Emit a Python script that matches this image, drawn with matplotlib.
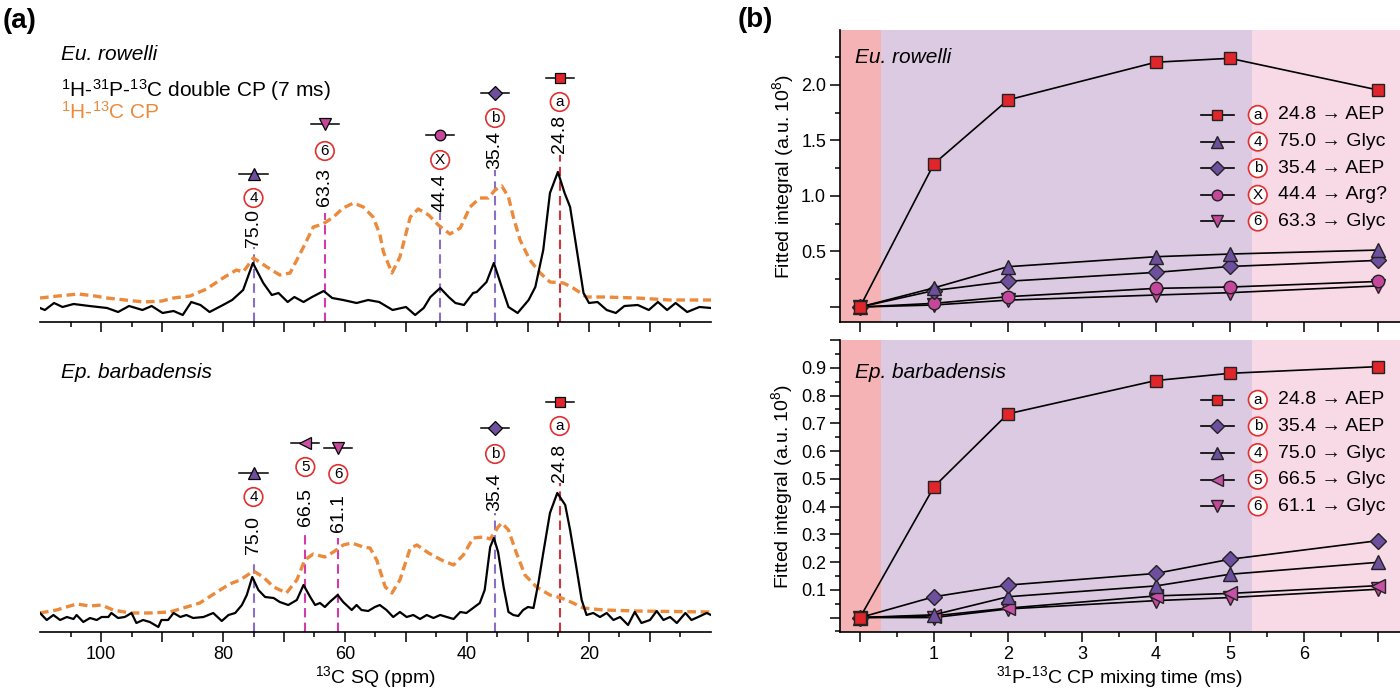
import numpy as np
import matplotlib
matplotlib.use("Agg")
import matplotlib.pyplot as plt
from matplotlib.ticker import FixedLocator, MultipleLocator, FuncFormatter

plt.rcParams['font.family'] = ['Liberation Sans', 'DejaVu Sans']
plt.rcParams['mathtext.fontset'] = 'custom'
plt.rcParams['mathtext.rm'] = 'Liberation Sans'
plt.rcParams['mathtext.it'] = 'Liberation Sans:italic'

# ---------------- data: spectra (ppm, intensity a.u.) ----------------
eu_cp_ppm = [110, 107, 103.7, 101, 99, 96, 93, 90, 88.1, 85.4, 82.7, 80, 77.8, 76.7, 75,
             72.8, 70.7, 69, 66.8, 65.2, 63.6, 61.9, 60.3, 58.6, 57, 55.4, 54.3, 53.7,
             52.3, 51, 49.3, 48, 46.3, 44.7, 42.8, 41.1, 39.5, 37.9, 36.5, 35.4, 34.3,
             33.2, 32.4, 31.3, 29.7, 28, 26.4, 24.2, 22.6, 20.4, 17.6, 12.2, 6.7, 0]
eu_cp_int = [24, 26, 28, 26, 24, 22, 20, 21, 24, 26, 33, 44, 52, 50, 64,
             55, 47, 49, 75, 95, 98, 105, 114, 119, 115, 105, 88, 70,
             49, 65, 105, 113, 107, 97, 88, 94, 115, 124, 124, 132, 136,
             125, 105, 82, 62, 49, 40, 39, 34, 25, 25, 24, 22, 22]

eu_dcp_ppm = [110, 109.2, 107.7, 106.3, 104.5, 101.9, 99, 97.2, 95.4, 93.2, 91.7, 89.9,
              88.1, 86.6, 85.2, 83.7, 82.2, 80, 78.5, 76.7, 75.1, 73.4, 72, 70.9, 69.4,
              68.3, 66.8, 65.4, 63.5, 62.1, 60.3, 58.1, 56.2, 54.4, 52.2, 50, 48.5, 47.1,
              46, 44.4, 43, 41.9, 40.5, 39, 38.4, 36.8, 35.6, 34.3, 33.2, 31.7, 29.9,
              28.8, 27.5, 26.4, 25.1, 24, 23.1, 22, 20.9, 20, 18.6, 17.1, 15.6, 14.2,
              12, 10.2, 8.7, 7.2, 5.8, 3.9, 1.9, 0]
eu_dcp_int = [14, 12, 19, 15, 18, 16, 14, 10, 16, 12, 16, 9,
              11, 7, 20, 17, 10, 17, 22, 32, 59, 39, 27, 29, 20,
              25, 20, 25, 31, 24, 22, 19, 22, 20, 12, 15, 7, 14,
              25, 34, 25, 19, 17, 29, 30, 40, 59, 35, 15, 9, 22,
              35, 72, 129, 150, 129, 115, 72, 29, 19, 20, 12, 9, 16,
              17, 12, 20, 12, 19, 10, 15, 14]

ep_cp_ppm = [110, 107.3, 104, 101.8, 99.9, 98, 95.2, 92, 88.7, 86.5, 83.8, 81, 78.9, 77.2,
             75, 73.4, 71.7, 69.6, 67.9, 66.6, 65.2, 63.3, 61.9, 60.3, 58.9, 57, 55.9,
             54.8, 53.4, 52.3, 51, 49.3, 48.2, 46.3, 44.2, 42.2, 40.6, 39, 37.3, 36.2,
             34.9, 34.3, 33.2, 31.9, 30.5, 28.6, 26.4, 24.5, 22.6, 20.9, 17.6, 12.2, 0]
ep_cp_int = [19, 22, 28, 26, 27, 22, 19, 19, 20, 24, 29, 40, 48, 52,
             61, 55, 45, 39, 52, 72, 78, 75, 80, 87, 89, 85, 84,
             72, 45, 39, 52, 84, 87, 79, 72, 67, 77, 94, 95, 93,
             105, 109, 102, 79, 57, 45, 37, 34, 29, 24, 22, 21, 20]

ep_dcp_ppm = [110, 108.9, 107.8, 106.7, 105.6, 104.5, 104, 102.9, 101.8, 100.7, 99.9, 98.8,
              98.3, 97.2, 96.1, 95, 94.2, 93.1, 92, 90.6, 90.1, 89, 88.1, 87, 86, 84.9,
              83.2, 81.6, 80.2, 79.1, 78, 76.9, 76.1, 75.2, 74.2, 73.1, 71.7, 70.7, 69.3,
              67.9, 66.8, 65.7, 64.9, 64.1, 63.3, 62.5, 61.2, 60.3, 58.9, 58.1, 57.3,
              56.2, 55.1, 54.3, 53.2, 52.1, 51, 49.9, 48.8, 47.7, 46.6, 45.5, 44.4, 43.3,
              42.2, 41.1, 40.1, 39, 37.9, 37.1, 36.2, 35.6, 34.9, 34, 33.2, 32.4, 31.6,
              30.8, 30, 29.1, 28.3, 27.5, 26.4, 25.2, 23.9, 23.1, 22, 21.2, 20.4, 19.3,
              18.2, 17.1, 16, 14.9, 13.6, 12.5, 11.4, 10, 8.9, 7.8, 6.7, 5.6, 4.2, 3.2,
              2.1, 0.7, 0]
ep_dcp_int = [19, 12, 17, 12, 15, 13, 17, 10, 14, 12, 15, 15,
              19, 14, 15, 19, 9, 12, 10, 5, 12, 12, 19, 15, 17, 14,
              15, 19, 11, 17, 19, 27, 37, 55, 42, 35, 34, 30, 27,
              32, 47, 35, 27, 29, 25, 30, 37, 30, 22, 27, 22,
              21, 25, 27, 22, 15, 20, 15, 17, 13, 17, 14, 17, 15,
              13, 20, 19, 24, 29, 42, 85, 94, 80, 45, 20, 17, 16,
              22, 25, 24, 49, 79, 119, 139, 127, 102, 62, 32, 17, 19,
              15, 19, 12, 15, 7, 20, 9, 12, 21, 12, 15, 9, 19, 12,
              15, 19, 17]

# peak assignments
eu_peaks = [75.0, 63.3, 44.4, 35.4, 24.8]
eu_ids = ['4', '6', 'X', 'b', 'a']
ep_peaks = [75.0, 66.5, 61.1, 35.4, 24.8]
ep_ids = ['4', '5', '6', 'b', 'a']

# ---------------- data: build-up curves ----------------
mix_time = [0, 1, 2, 4, 5, 7]
eu_series = {
    'a': [0, 1.29, 1.865, 2.205, 2.24, 1.955],
    '4': [0, 0.172, 0.363, 0.453, 0.477, 0.513],
    'b': [0, 0.148, 0.232, 0.312, 0.365, 0.42],
    'X': [0, 0.033, 0.093, 0.168, 0.18, 0.23],
    '6': [0, 0.018, 0.062, 0.108, 0.129, 0.19],
}
eu_labels = {'a': '24.8 → AEP', '4': '75.0 → Glyc', 'b': '35.4 → AEP',
             'X': '44.4 → Arg?', '6': '63.3 → Glyc'}
eu_order = ['a', '4', 'b', 'X', '6']

ep_series = {
    'a': [0, 0.471, 0.734, 0.854, 0.88, 0.904],
    'b': [0, 0.075, 0.117, 0.159, 0.21, 0.277],
    '4': [0, 0.01, 0.075, 0.114, 0.156, 0.199],
    '5': [0, 0.006, 0.034, 0.078, 0.087, 0.115],
    '6': [0, 0.0, 0.031, 0.061, 0.072, 0.102],
}
ep_labels = {'a': '24.8 → AEP', 'b': '35.4 → AEP', '4': '75.0 → Glyc',
             '5': '66.5 → Glyc', '6': '61.1 → Glyc'}
ep_order = ['a', 'b', '4', '5', '6']

# ---------------- styles ----------------
RED = '#e0262b'
PURPLE = '#6e4f9e'
MAGENTA = '#c4479b'
ORANGE = '#ec8a3c'
style = {  # marker, fill, size, dashed-line colour
    'a': ('s', RED, 9, '#d0343c'),
    '4': ('^', PURPLE, 10, '#8b6fc4'),
    'b': ('D', PURPLE, 8.5, '#8b6fc4'),
    'X': ('o', MAGENTA, 9, '#8b6fc4'),
    '6': ('v', MAGENTA, 10, '#d03cae'),
    '5': ('<', '#c850a6', 10, '#d03cae'),
}
CIRCLE = dict(boxstyle='circle,pad=0.15', fc='white', ec='#e03030', lw=1.2)

# annotation layout (dash top, label centre, circle centre, marker centre)
eu_layout = [(75, 94, 124, 148), (109, 135, 171, 198), (109, 129, 162, 187),
             (152, 172, 204, 229), (167, 188, 220, 244)]
ep_layout = [(72, 97, 135, 159), (102, 125, 165, 189), (94, 119, 158, 184),
             (119, 140, 178, 204), (149, 169, 206, 230)]

fig = plt.figure(figsize=(14, 6.9), dpi=100)
W, H = 1400, 690


def px_axes(x0, y0, x1, y1):
    return fig.add_axes([x0 / W, 1 - y1 / H, (x1 - x0) / W, (y1 - y0) / H])


def spectrum(ax, cp_ppm, cp_int, dcp_ppm, dcp_int, peaks, ids, layout, name, show_labels):
    ax.plot(cp_ppm, cp_int, color=ORANGE, lw=2.4, ls=(0, (2.6, 1.4)), zorder=2)
    ax.plot(dcp_ppm, dcp_int, color='black', lw=1.6, zorder=3)
    for p, k, (dt, tc, cc, mc) in zip(peaks, ids, layout):
        mk, fc, ms, lc = style[k]
        ax.vlines(p, 0, dt, colors=lc, lw=1.5, linestyles=(0, (4.5, 2.5)), zorder=1)
        ax.text(p, tc, f'{p:.1f}', rotation=90, ha='center', va='center', fontsize=14)
        ax.text(p, cc, k, ha='center', va='center', fontsize=11, bbox=CIRCLE)
        ax.plot([p + 2.3, p - 2.3], [mc, mc], color='black', lw=1.1)
        ax.plot([p], [mc], marker=mk, ms=ms * 0.85, mfc=fc, mec='black', mew=0.9)
    ax.set_xlim(110, 0)
    ax.set_ylim(0, 292)
    for s in ['top', 'right', 'left']:
        ax.spines[s].set_visible(False)
    ax.spines['bottom'].set_linewidth(1.2)
    ax.set_yticks([])
    ax.xaxis.set_major_locator(FixedLocator(np.arange(10, 101, 10)))
    ax.xaxis.set_minor_locator(FixedLocator(np.arange(5, 106, 10)))
    ax.tick_params(axis='x', which='major', length=7, width=1.1, labelsize=13, pad=3)
    ax.tick_params(axis='x', which='minor', length=3.5, width=1.1)
    if show_labels:
        ax.xaxis.set_major_formatter(FuncFormatter(
            lambda v, pos: f'{v:.0f}' if round(v) % 20 == 0 else ''))
        ax.set_xlabel('$^{13}$C SQ (ppm)', fontsize=14, labelpad=1)
    else:
        ax.set_xticklabels([])
    ax.text(106.6, 267 if not show_labels else 260, name, fontsize=15, style='italic',
            ha='left', va='center')


axL1 = px_axes(40, 30, 711, 322)
spectrum(axL1, eu_cp_ppm, eu_cp_int, eu_dcp_ppm, eu_dcp_int, eu_peaks, eu_ids,
         eu_layout, 'Eu. rowelli', False)
axL1.text(106.6, 232, '$^{1}$H-$^{31}$P-$^{13}$C double CP (7 ms)', fontsize=15,
          ha='left', va='center')
axL1.text(106.6, 210, '$^{1}$H-$^{13}$C CP', fontsize=15, color=ORANGE,
          ha='left', va='center')

axL2 = px_axes(40, 340, 711, 632)
spectrum(axL2, ep_cp_ppm, ep_cp_int, ep_dcp_ppm, ep_dcp_int, ep_peaks, ep_ids,
         ep_layout, 'Ep. barbadensis', True)


def buildup(ax, series, labels, order, name, ylim, major, minor, show_x, leg_y0, name_y):
    ax.axvspan(-0.3, 0.29, color='#f6b3b5', lw=0, zorder=0)
    ax.axvspan(0.29, 5.3, color='#dccae2', lw=0, zorder=0)
    ax.axvspan(5.3, 7.4, color='#f8d9e6', lw=0, zorder=0)
    for k in order[::-1]:
        mk, fc, ms, _ = style[k]
        ax.plot(mix_time, series[k], color='black', lw=1.2, marker=mk, ms=ms,
                mfc=fc, mec='#222222', mew=1.0, zorder=3, clip_on=False)
    ax.set_xlim(-0.27, 7.3)
    ax.set_ylim(*ylim)
    for s in ['top', 'right']:
        ax.spines[s].set_visible(False)
    for s in ['left', 'bottom']:
        ax.spines[s].set_linewidth(1.2)
    ax.xaxis.set_major_locator(MultipleLocator(1))
    ax.xaxis.set_minor_locator(MultipleLocator(0.5))
    ax.yaxis.set_major_locator(MultipleLocator(major))
    ax.yaxis.set_minor_locator(MultipleLocator(minor))
    ax.tick_params(which='major', length=7, width=1.1, labelsize=13, pad=3)
    ax.tick_params(which='minor', length=3.5, width=1.1)
    ax.yaxis.set_major_formatter(FuncFormatter(
        lambda v, pos: '' if abs(v) < 1e-9 or abs(v - 1.0) < 1e-9 and show_x else f'{v:.1f}'))
    if show_x:
        ax.xaxis.set_major_formatter(FuncFormatter(
            lambda v, pos: f'{v:.0f}' if 0.5 < v < 6.5 else ''))
        ax.set_xlabel('$^{31}$P-$^{13}$C CP mixing time (ms)', fontsize=14, labelpad=1)
    else:
        ax.set_xticklabels([])
    ax.set_ylabel('Fitted integral (a.u. 10$^{8}$)', fontsize=14, labelpad=4)
    ax.text(0.026, name_y, name, transform=ax.transAxes,
            fontsize=15, style='italic', ha='left', va='center')
    # legend
    for i, k in enumerate(order):
        mk, fc, ms, _ = style[k]
        y = leg_y0 - i * 0.0912
        ax.plot([0.645, 0.703], [y, y], transform=ax.transAxes, color='black', lw=1.2)
        ax.plot([0.673], [y], transform=ax.transAxes, marker=mk, ms=ms * 0.85, mfc=fc,
                mec='#222222', mew=1.0)
        ax.text(0.746, y, k, transform=ax.transAxes, ha='center', va='center',
                fontsize=11, bbox=CIRCLE)
        ax.text(0.782, y, labels[k], transform=ax.transAxes, ha='left', va='center',
                fontsize=14)


axR1 = px_axes(840, 30, 1400, 322)
buildup(axR1, eu_series, eu_labels, eu_order, 'Eu. rowelli', (-0.135, 2.495), 0.5, 0.25,
        False, 0.709, 0.907)
axR2 = px_axes(840, 340, 1400, 632)
buildup(axR2, ep_series, ep_labels, ep_order, 'Ep. barbadensis', (-0.052, 1.0), 0.1, 0.05,
        True, 0.795, 0.89)

fig.text(20 / W, 1 - 21 / H, '(a)', fontsize=20, fontweight='bold', ha='center', va='center')
fig.text(755 / W, 1 - 20 / H, '(b)', fontsize=20, fontweight='bold', ha='center', va='center')

fig.savefig('out.png', dpi=100)
